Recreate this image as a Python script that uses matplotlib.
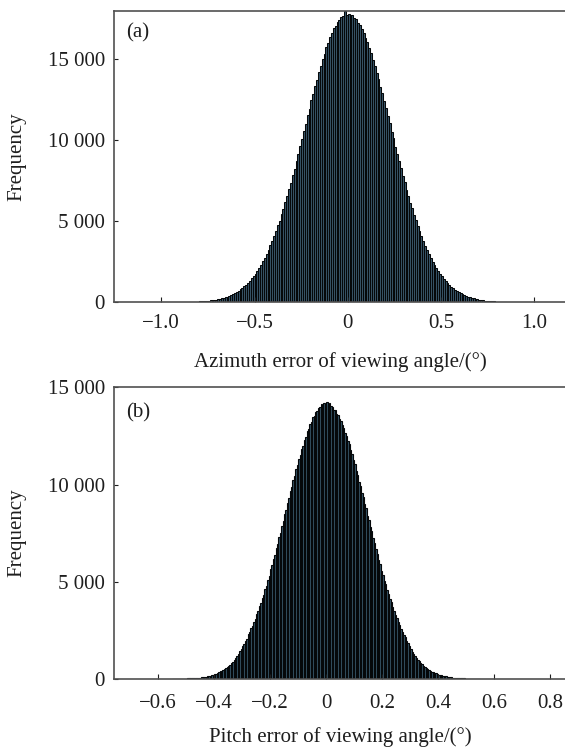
import numpy as np
import matplotlib
matplotlib.use("Agg")
import matplotlib.pyplot as plt
from matplotlib.ticker import FuncFormatter

plt.rcParams['font.family'] = ['Liberation Serif', 'DejaVu Serif']

# azimuth error histogram, bins of 0.01 deg starting at -0.85
azimuth_bin_start = -0.85
azimuth_bin_width = 0.01
azimuth_counts = [
    20, 26, 28, 35, 38, 47, 50, 63, 68, 84,
    92, 111, 121, 146, 160, 188, 208, 244, 270, 313,
    346, 399, 440, 505, 556, 633, 696, 790, 866, 978,
    1068, 1203, 1308, 1466, 1590, 1772, 1918, 2128, 2296, 2536,
    2730, 2998, 3214, 3520, 3760, 4100, 4370, 4740, 5030, 5440,
    5760, 6190, 6540, 7000, 7360, 7850, 8230, 8740, 9140, 9660,
    10060, 10590, 11000, 11530, 11930, 12460, 12850, 13360, 13730, 14220,
    14560, 15010, 15330, 15740, 16010, 16380, 16600, 16910, 17080, 17330,
    17440, 17620, 17690, 17980, 17720,
    17810, 17740, 17710, 17570, 17480, 17270, 17120, 16850, 16640, 16320,
    16060, 15680, 15370, 14960, 14610, 14160, 13780, 13300, 12900, 12400,
    11990, 11470, 11050, 10540, 10110, 9610, 9180, 8690, 8280, 7800,
    7400, 6950, 6580, 6150, 5790, 5400, 5070, 4700, 4400, 4060,
    3790, 3480, 3240, 2960, 2750, 2500, 2320, 2100, 1935, 1745,
    1605, 1440, 1322, 1180, 1080, 960, 876, 775, 705, 620,
    563, 493, 447, 388, 352, 304, 275, 236, 213, 181,
    164, 139, 126, 105, 96, 79, 71, 59, 53, 44,
    39, 32, 29, 23, 21,
]

# pitch error histogram, bins of 0.005 deg starting at -0.55
pitch_bin_start = -0.55
pitch_bin_width = 0.005
pitch_counts = [
    6, 7, 9, 8, 11, 10, 13, 15, 17, 19,
    23, 25, 29, 30, 36, 39, 46, 50, 59, 64,
    75, 82, 95, 102, 119, 129, 149, 160, 186, 200,
    256, 276, 314, 340, 386, 416, 470, 508, 570, 612,
    692, 740, 834, 892, 1000, 1068, 1192, 1276, 1420, 1518,
    1672, 1788, 1966, 2080, 2290, 2410, 2600, 2740, 2940, 3090,
    3320, 3470, 3730, 3890, 4160, 4330, 4620, 4790, 5110, 5310,
    5630, 5840, 6170, 6380, 6730, 6950, 7310, 7520, 7890, 8110,
    8480, 8700, 9070, 9290, 9660, 9880, 10230, 10450, 10800, 10990,
    11330, 11510, 11840, 11990, 12300, 12440, 12740, 12850, 13130, 13220,
    13460, 13520, 13730, 13760, 13940, 13980, 14120, 14060, 14190, 14110,
    14230, 14090, 14180, 14020, 14010, 13850, 13830, 13640, 13590, 13380,
    13290, 13040, 12930, 12660, 12520, 12230, 12070, 11760, 11580, 11250,
    11060, 10710, 10510, 10150, 9940, 9570, 9360, 8990, 8770, 8400,
    8170, 7810, 7590, 7230, 7010, 6660, 6440, 6100, 5890, 5570,
    5360, 5060, 4860, 4570, 4390, 4110, 3940, 3680, 3520, 3280,
    3130, 2910, 2770, 2570, 2440, 2250, 2140, 1970, 1860, 1720,
    1540, 1400, 1300, 1170, 1090, 980, 915, 815, 760, 680,
    625, 560, 518, 460, 425, 376, 348, 306, 284, 249,
    229, 200, 185, 160, 148, 129, 119, 102, 94, 81,
    75, 64, 59, 50, 46, 39, 36, 30, 28, 23,
    22, 17, 17, 13, 13, 9, 10, 7, 8, 5,
]

azimuth_xticks = [-1.0, -0.5, 0, 0.5, 1.0]
pitch_xticks = [-0.6, -0.4, -0.2, 0, 0.2, 0.4, 0.6, 0.8]
azimuth_yticks = [0, 5000, 10000, 15000]
pitch_yticks = [0, 5000, 10000, 15000]

BAR_FACE = '#38576a'
BAR_EDGE = '#05080a'
SPINE = '#505050'
TXT = '#1e1e1e'
FS = 15


def fmt_x(v, pos):
    if abs(v) < 1e-9:
        return '0'
    return f'{v:.1f}'.replace('-', '\u2212')


def fmt_y(v, pos):
    return f'{int(round(v)):,}'.replace(',', ' ')


def draw_hist(ax, start, width, counts, xlim, ylim, xticks, yticks, tag, xlabel, tag_y, xlabel_y, xpad, lw):
    centers = start + width * (np.arange(len(counts)) + 0.5)
    ax.bar(centers, counts, width=width, align='center',
           facecolor=BAR_FACE, edgecolor=BAR_EDGE, linewidth=lw)
    ax.set_xlim(*xlim)
    ax.set_ylim(*ylim)
    ax.set_xticks(xticks)
    ax.set_yticks(yticks)
    ax.xaxis.set_major_formatter(FuncFormatter(fmt_x))
    ax.yaxis.set_major_formatter(FuncFormatter(fmt_y))
    ax.tick_params(axis='x', direction='in', length=3.5, width=0.8, pad=xpad,
                   labelsize=FS, colors=TXT, top=False)
    ax.tick_params(axis='y', direction='in', length=3, width=0.8, pad=6.5,
                   labelsize=FS, colors=TXT, right=False)
    for s in ('left', 'bottom', 'top'):
        ax.spines[s].set_color(SPINE)
        ax.spines[s].set_linewidth(1.2)
    ax.spines['right'].set_visible(False)
    ax.set_ylabel('Frequency', fontsize=FS, color=TXT)
    ax.yaxis.set_label_coords(-0.193, 0.5)
    ax.set_xlabel(xlabel, fontsize=FS, color=TXT)
    ax.xaxis.set_label_coords(0.5026, xlabel_y)
    ax.text(0.027, tag_y, tag, transform=ax.transAxes, fontsize=FS,
            ha='left', va='center', color=TXT)


fig = plt.figure(figsize=(5.65, 7.49), dpi=100)
ax1 = fig.add_axes([0.2016, 0.5965, 0.7984, 0.3892])
ax2 = fig.add_axes([0.2016, 0.0935, 0.7984, 0.3894])

draw_hist(ax1, azimuth_bin_start, azimuth_bin_width, azimuth_counts,
          (-1.254, 1.165), (0, 18000), azimuth_xticks, azimuth_yticks,
          '(a)', 'Azimuth error of viewing angle/(°)', 0.923, -0.172, 8.5, 0.75)
draw_hist(ax2, pitch_bin_start, pitch_bin_width, pitch_counts,
          (-0.757, 0.852), (0, 15000), pitch_xticks, pitch_yticks,
          '(b)', 'Pitch error of viewing angle/(°)', 0.912, -0.165, 11, 0.8)

fig.savefig('out.png', dpi=100)
